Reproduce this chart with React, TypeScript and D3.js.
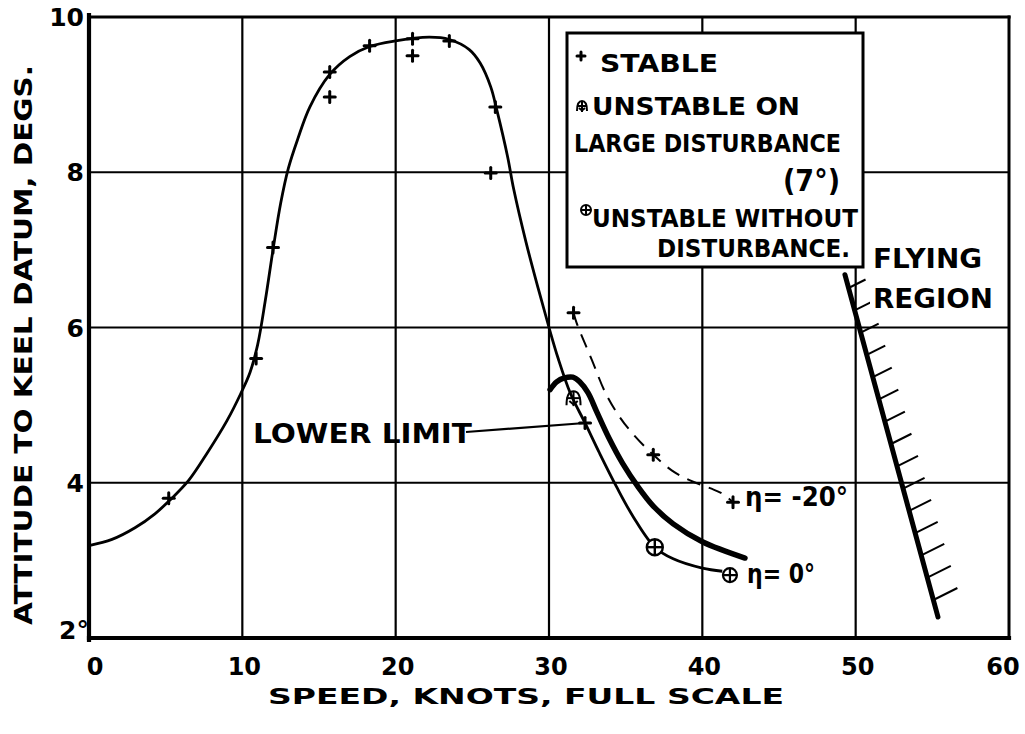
import React from "react";
import * as d3 from "d3";

// ---------- data ----------
const xTicks = [0, 10, 20, 30, 40, 50, 60];
const yTicks = [2, 4, 6, 8, 10];
const yTickLabels = ["2°", "4", "6", "8", "10"];

// main attitude curve (eta = 0), continues down to the "η = 0°" label
const mainCurve: [number, number][] = [
  [0, 3.19], [1.5, 3.27], [3.0, 3.42], [4.3, 3.6], [5.3, 3.78], [6.5, 4.03], [7.7, 4.38],
  [9.0, 4.8], [9.9, 5.15], [10.5, 5.42], [11.0, 5.78], [11.5, 6.35], [12.0, 7.0],
  [12.5, 7.6], [13.0, 8.05], [13.6, 8.42], [14.4, 8.84], [15.7, 9.26], [17.0, 9.49],
  [18.3, 9.62], [19.9, 9.69], [22.2, 9.74], [23.5, 9.71], [24.8, 9.58], [25.5, 9.41],
  [26.2, 9.1], [26.6, 8.8], [27.3, 8.2], [27.7, 7.78], [28.5, 7.1], [29.3, 6.5],
  [30.0, 6.0], [30.6, 5.6], [31.4, 5.15], [32.35, 4.77], [33.3, 4.38], [34.4, 3.95],
  [35.5, 3.56], [36.9, 3.17], [38.1, 3.02], [40.0, 2.9], [41.3, 2.86],
];

// lower limit (thick)
const lowerLimit: [number, number][] = [
  [30.07, 5.2], [30.5, 5.3], [31.0, 5.35], [31.55, 5.36], [32.0, 5.3], [32.54, 5.16],
  [33.1, 4.92], [33.9, 4.58], [34.8, 4.25], [35.8, 3.95], [36.8, 3.7], [38.1, 3.47],
  [40.0, 3.24], [42.78, 3.03],
];

// eta = -20 deg (dashed)
const etaMinus20: [number, number][] = [
  [31.6, 6.19], [31.8, 6.06], [32.8, 5.58], [33.7, 5.15], [34.6, 4.85], [35.6, 4.6],
  [36.8, 4.36], [38.0, 4.16], [39.2, 4.03], [40.5, 3.93], [41.3, 3.86], [42.0, 3.75],
];

const stablePts: [number, number][] = [
  [5.2, 3.8], [10.9, 5.6], [12.0, 7.03], [15.7, 8.97], [15.7, 9.29], [18.3, 9.63],
  [21.1, 9.5], [21.1, 9.72], [23.5, 9.69], [26.5, 8.84], [26.2, 7.99], [32.35, 4.77],
  [31.6, 6.19], [36.8, 4.36], [42.0, 3.75],
];
const unstableLargePts: [number, number][] = [[31.6, 5.09]];
const unstableNoDistPts: [number, number][] = [[36.9, 3.17]];

const flyingBoundary: [number, number][] = [[49.3, 6.68], [55.37, 2.27]];

const legendLines = [
  "STABLE",
  "UNSTABLE ON",
  "LARGE DISTURBANCE",
  "(7°)",
  "UNSTABLE WITHOUT",
  "DISTURBANCE.",
];

// ---------- layout ----------
const W = 1025;
const H = 734;
const x = d3.scaleLinear().domain([0, 60]).range([89, 1009]);
const y = d3.scaleLinear().domain([2, 10]).range([638, 17]);
const FONT = "'DejaVu Sans', sans-serif";

const curve = d3
  .line<[number, number]>()
  .x((d) => x(d[0]))
  .y((d) => y(d[1]))
  .curve(d3.curveCatmullRom.alpha(0.5));

const Plus = ({ cx, cy, s = 5.5 }: { cx: number; cy: number; s?: number }) => (
  <g stroke="#000" strokeWidth={3} strokeLinecap="round">
    <line x1={cx - s} y1={cy} x2={cx + s} y2={cy} />
    <line x1={cx} y1={cy - s} x2={cx} y2={cy + s} />
  </g>
);

const CirclePlus = ({ cx, cy, r = 7, sw = 2.2 }: { cx: number; cy: number; r?: number; sw?: number }) => (
  <g stroke="#000" strokeWidth={sw} fill="none">
    <circle cx={cx} cy={cy} r={r} />
    <line x1={cx - r} y1={cy} x2={cx + r} y2={cy} />
    <line x1={cx} y1={cy - r} x2={cx} y2={cy + r} />
  </g>
);

const LargeDist = ({ cx, cy, r = 6 }: { cx: number; cy: number; r?: number }) => (
  <g stroke="#000" strokeWidth={2} fill="none">
    <path d={`M${cx - r},${cy + r} Q${cx - r},${cy - r} ${cx},${cy - r} Q${cx + r},${cy - r} ${cx + r},${cy + r}`} />
    <line x1={cx - r} y1={cy} x2={cx + r} y2={cy} />
    <line x1={cx} y1={cy - r} x2={cx} y2={cy + r + 1} />
    <path d={`M${cx - r * 0.6},${cy + r * 0.4} L${cx},${cy + r * 0.9} L${cx + r * 0.6},${cy + r * 0.4}`} />
  </g>
);

export default function App() {
  // hatches along the flying-region boundary
  const [p0, p1] = flyingBoundary;
  const X0 = x(p0[0]), Y0 = y(p0[1]), X1 = x(p1[0]), Y1 = y(p1[1]);
  const hatchCount = 15;
  const hatches = d3.range(hatchCount).map((i) => {
    const hy = 288 + (i * (600 - 288)) / (hatchCount - 1);
    const t = (hy - Y0) / (Y1 - Y0);
    const hx = X0 + t * (X1 - X0);
    const len = 17 + i * 0.5;
    return { x1: hx, y1: hy, x2: hx + len, y2: hy - len * 0.5 };
  });

  const xLabelX = (t: number) => (t === 0 ? x(t) + 6 : t === 60 ? x(t) - 6 : x(t) + 2);

  return (
    <svg
      width={W}
      height={H}
      viewBox={`0 0 ${W} ${H}`}
      style={{ position: "absolute", left: 0, top: 0, background: "#fff" }}
      fontFamily={FONT}
    >
      <rect x={0} y={0} width={W} height={H} fill="#fff" />

      {/* grid */}
      <g stroke="#000" strokeWidth={2.2}>
        {xTicks.slice(1, -1).map((t) => (
          <line key={"gx" + t} x1={x(t)} x2={x(t)} y1={y(10)} y2={y(2)} />
        ))}
        {yTicks.slice(1, -1).map((t) => (
          <line key={"gy" + t} x1={x(0)} x2={x(60)} y1={y(t)} y2={y(t)} />
        ))}
      </g>

      {/* frame */}
      <g stroke="#000" strokeLinecap="square">
        <line x1={x(0)} x2={x(60)} y1={y(10)} y2={y(10)} strokeWidth={3.2} />
        <line x1={x(60)} x2={x(60)} y1={y(10)} y2={y(2)} strokeWidth={3} />
        <line x1={x(0)} x2={x(0)} y1={y(10) - 2} y2={y(2) + 2} strokeWidth={4.2} />
        <line x1={x(0)} x2={x(60)} y1={y(2)} y2={y(2)} strokeWidth={4.2} />
      </g>

      {/* tick labels */}
      <g fontSize={24} fontWeight={700} textAnchor="middle">
        {xTicks.map((t) => (
          <text key={"xt" + t} x={xLabelX(t)} y={675}>
            {t}
          </text>
        ))}
      </g>
      <g fontSize={25} fontWeight={700} textAnchor="end">
        {yTicks.map((t, i) => (
          <text key={"yt" + t} x={t === 2 ? 89 : 84} y={y(t) + (t === 2 ? 1 : 9)}>
            {yTickLabels[i]}
          </text>
        ))}
      </g>

      {/* axis titles */}
      <text
        x={526}
        y={704}
        fontSize={22}
        fontWeight={700}
        textAnchor="middle"
        textLength={516}
        lengthAdjust="spacingAndGlyphs"
      >
        SPEED, KNOTS, FULL SCALE
      </text>
      <text
        transform="translate(32,345) rotate(-90)"
        fontSize={25}
        fontWeight={700}
        textAnchor="middle"
        textLength={560}
        lengthAdjust="spacingAndGlyphs"
      >
        ATTITUDE TO KEEL DATUM, DEGS.
      </text>

      {/* legend */}
      <rect x={567} y={33} width={296} height={234} fill="#fff" stroke="#000" strokeWidth={3} />
      <Plus cx={581} cy={56} s={4} />
      <LargeDist cx={582} cy={106} r={5} />
      <CirclePlus cx={586} cy={210} r={5} sw={2} />
      <g fontSize={25} fontWeight={700}>
        <text x={600} y={72} textLength={118} lengthAdjust="spacingAndGlyphs">{legendLines[0]}</text>
        <text x={592} y={115} textLength={208} lengthAdjust="spacingAndGlyphs">{legendLines[1]}</text>
        <text x={574} y={152} textLength={267} lengthAdjust="spacingAndGlyphs">{legendLines[2]}</text>
        <text x={783} y={191} fontSize={30} fontWeight={700} textLength={57} lengthAdjust="spacingAndGlyphs">{legendLines[3]}</text>
        <text x={592} y={227} textLength={266} lengthAdjust="spacingAndGlyphs">{legendLines[4]}</text>
        <text x={657} y={257} textLength={193} lengthAdjust="spacingAndGlyphs">{legendLines[5]}</text>
      </g>

      {/* flying region */}
      <line x1={X0} y1={Y0} x2={X1} y2={Y1} stroke="#000" strokeWidth={5} strokeLinecap="round" />
      <g stroke="#000" strokeWidth={2}>
        {hatches.map((h, i) => (
          <line key={"h" + i} x1={h.x1} y1={h.y1} x2={h.x2} y2={h.y2} />
        ))}
      </g>
      <g fontSize={27} fontWeight={700}>
        <text x={873} y={268} textLength={109} lengthAdjust="spacingAndGlyphs">FLYING</text>
        <rect x={870} y={284} width={124} height={26} fill="#fff" />
        <text x={873} y={308} textLength={120} lengthAdjust="spacingAndGlyphs">REGION</text>
      </g>

      {/* curves */}
      <path d={curve(mainCurve) || ""} fill="none" stroke="#000" strokeWidth={2.8} />
      <path d={curve(etaMinus20) || ""} fill="none" stroke="#000" strokeWidth={2} strokeDasharray="14 9" />
      <path d={curve(lowerLimit) || ""} fill="none" stroke="#000" strokeWidth={5.5} strokeLinecap="round" />

      {/* markers */}
      {stablePts.map((p, i) => (
        <Plus key={"s" + i} cx={x(p[0])} cy={y(p[1])} />
      ))}
      {unstableLargePts.map((p, i) => (
        <LargeDist key={"u" + i} cx={x(p[0])} cy={y(p[1])} r={7} />
      ))}
      {unstableNoDistPts.map((p, i) => (
        <g key={"n" + i}>
          <circle cx={x(p[0])} cy={y(p[1])} r={8} fill="#fff" />
          <CirclePlus cx={x(p[0])} cy={y(p[1])} r={8} sw={2.4} />
        </g>
      ))}

      {/* lower limit label + leader */}
      <text x={253} y={443} fontSize={27} fontWeight={700} textLength={219} lengthAdjust="spacingAndGlyphs">
        LOWER LIMIT
      </text>
      <line x1={466} y1={432} x2={x(32.35)} y2={y(4.77)} stroke="#000" strokeWidth={2.2} />

      {/* series labels */}
      <text x={745} y={506} fontSize={26} fontWeight={700} textLength={103} lengthAdjust="spacingAndGlyphs">
        η= -20°
      </text>
      <CirclePlus cx={x(41.8)} cy={y(2.81)} r={7} sw={2.2} />
      <text x={747} y={583} fontSize={26} fontWeight={700} textLength={68} lengthAdjust="spacingAndGlyphs">
        η= 0°
      </text>
    </svg>
  );
}
